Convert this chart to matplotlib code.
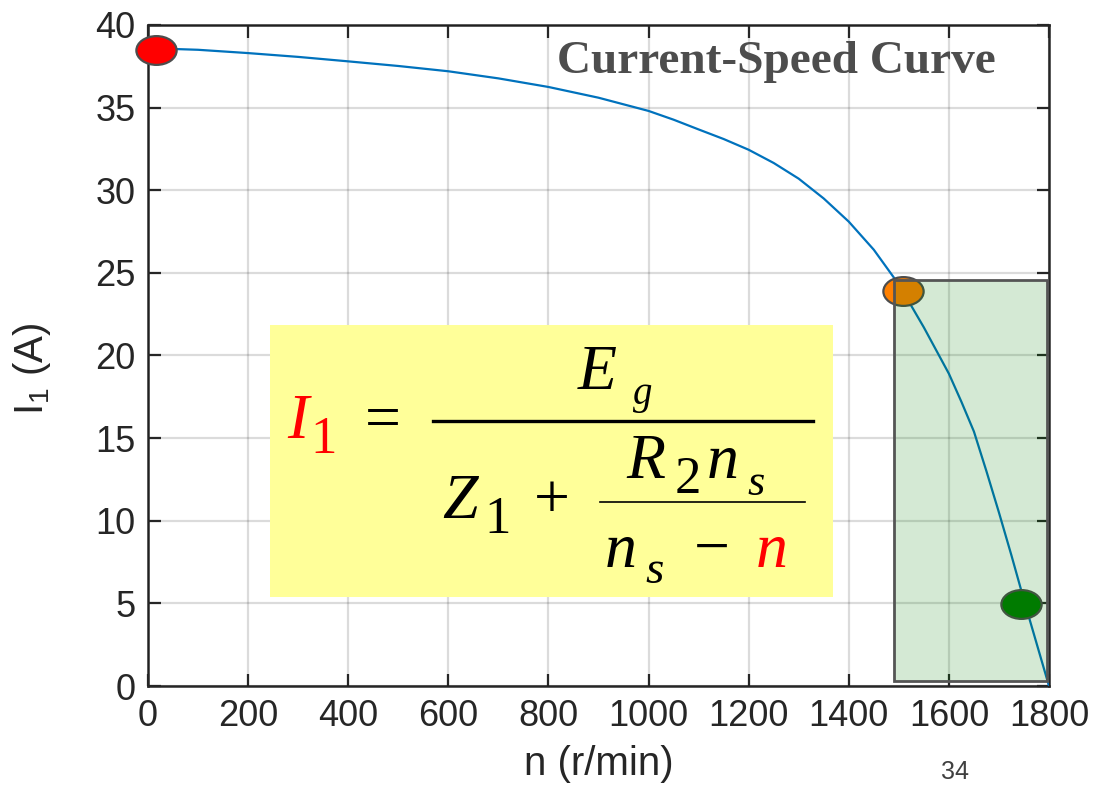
import matplotlib
matplotlib.use("Agg")
import matplotlib.pyplot as plt
from matplotlib.patches import Rectangle
from matplotlib.lines import Line2D
from matplotlib.path import Path
from matplotlib.transforms import Affine2D

# current vs. rotor speed
speed = [0, 100, 200, 300, 400, 500, 600, 700, 800, 900, 1000, 1050, 1100, 1150,
         1200, 1250, 1300, 1350, 1400, 1450, 1500, 1550, 1575, 1600, 1625, 1650,
         1675, 1700, 1725, 1750, 1775, 1800]
current = [38.6, 38.5, 38.3, 38.07, 37.8, 37.52, 37.2, 36.77, 36.25, 35.6, 34.8, 34.27, 33.68, 33.1,
           32.45, 31.65, 30.7, 29.5, 28.1, 26.4, 24.3, 21.7, 20.3, 18.9, 17.2, 15.4,
           13.0, 10.5, 7.9, 5.2, 2.6, 0.0]

# highlighted operating points
point_speed = [15, 1508, 1745]
point_current = [38.5, 23.9, 4.95]
point_colors = ["#ff0000", "#ff8000", "#007a00"]

xticks = list(range(0, 1801, 200))
yticks = list(range(0, 41, 5))

W, H = 1099, 785
fig = plt.figure(figsize=(W / 100, H / 100), dpi=100)
ax = fig.add_axes([148 / W, 1 - 686 / H, (1049 - 148) / W, (686 - 25) / H])

ax.plot(speed, current, color="#0072BD", lw=1.6, zorder=3)

oval = Path.unit_circle().transformed(Affine2D().scale(1.4, 1.0))
for x, y, c in zip(point_speed, point_current, point_colors):
    ax.plot(x, y, marker=oval, ms=29, mfc=c, mec="#4d4d4d", mew=1.6,
            zorder=4, clip_on=False)

# shaded region near synchronous speed
ax.add_patch(Rectangle((1490, 0.3), 306, 24.27, facecolor=(0, 0.5, 0, 0.17),
                       edgecolor="#555555", lw=2, zorder=5))

ax.set_xlim(0, 1800)
ax.set_ylim(0, 40)
ax.set_xticks(xticks)
ax.set_yticks(yticks)
ax.grid(True, color="black", alpha=0.14, lw=1.6)
ax.set_axisbelow(False)
ax.tick_params(direction="in", length=9, width=1.6, top=True, right=True,
               labelsize=26, colors="#262626", pad=9)
for s in ax.spines.values():
    s.set_linewidth(1.8)
    s.set_color("#262626")
for lab in ax.get_xticklabels() + ax.get_yticklabels():
    lab.set_family("Liberation Sans")

ax.set_xlabel("n (r/min)", fontsize=29, family="Liberation Sans", color="#262626", labelpad=8)
ax.set_ylabel(r"I$_{\mathregular{1}}$ (A)", fontsize=29, family="Liberation Sans",
              color="#262626")
ax.yaxis.set_label_coords(-0.105, 0.48)

ax.text(0.941, 0.927, "Current-Speed Curve", transform=ax.transAxes, ha="right",
        va="baseline", fontsize=34, fontweight="bold", family="Liberation Serif",
        color="#4d4d4d")


def px(x, y):
    return x / W, 1 - y / H


def put(x, y, s, size, color="black", italic=True):
    fx, fy = px(x, y)
    fig.text(fx, fy, s, fontsize=size, color=color, family="Liberation Serif",
             style="italic" if italic else "normal", ha="center", va="baseline", zorder=6)


def bar(x0, x1, y, lw):
    (a, b), (c, _) = px(x0, y), px(x1, y)
    fig.add_artist(Line2D([a, c], [b, b], transform=fig.transFigure, color="black",
                          lw=lw, zorder=6))


# formula panel
bx, by = px(270, 597)
fig.add_artist(Rectangle((bx, by), (833 - 270) / W, (597 - 325) / H,
                         transform=fig.transFigure, facecolor="#ffff99",
                         edgecolor="none", zorder=5))

put(297.5, 438, "I", 46, "red")
put(324, 453, "1", 38, "red", italic=False)
put(382.5, 438, "=", 46, italic=False)
put(597, 389, "E", 46)
put(642.5, 404, "g", 28)
bar(433, 813, 421, 2.4)
put(460, 518, "Z", 46)
put(498, 533, "1", 38, italic=False)
put(552, 518, "+", 46, italic=False)
bar(600, 805, 501.7, 1.2)
put(646, 478, "R", 46)
put(687.5, 493, "2", 38, italic=False)
put(723, 478, "n", 46)
put(756.5, 495, "s", 32)
put(621, 567, "n", 46)
put(654.5, 583, "s", 34)
put(711.5, 567, "\u2212", 46, italic=False)
put(771.5, 567, "n", 46, "red")

fx, fy = px(955, 760)
fig.text(fx, fy, "34", fontsize=18, color="#404040", family="Liberation Sans",
         ha="center", va="top")

fig.savefig("out.png", dpi=100)
